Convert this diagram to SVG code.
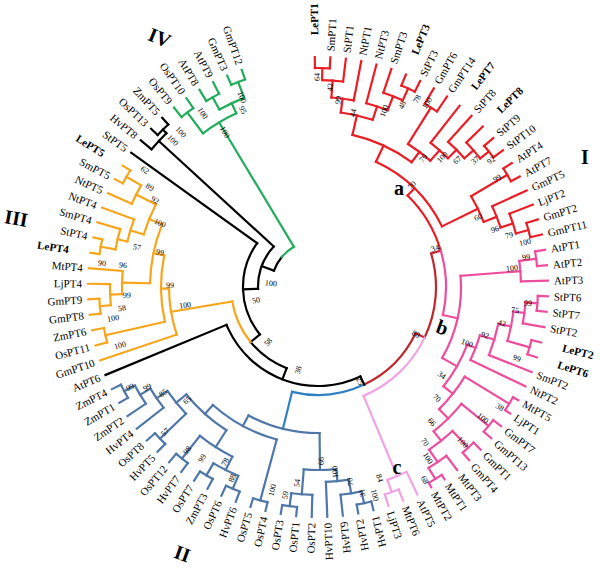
<svg xmlns="http://www.w3.org/2000/svg" width="600" height="568" viewBox="0 0 600 568">
<style>
text{font-family:"Liberation Serif","Times New Roman",serif;fill:#000}
.t{font-size:11px}
.L{font-weight:bold}
.n{text-anchor:end}
.s{font-size:8px;text-anchor:middle}
.c{font-size:20px;font-weight:bold;text-anchor:middle}
#tree line,#tree circle{fill:none;stroke-width:2.2;stroke-linecap:square}
.k{stroke:#000}.r{stroke:#ec1c24}.d{stroke:#c0272d}.p{stroke:#ee4d9e}.q{stroke:#f0a3e4}.u{stroke:#2f80c3}.w{stroke:#4f77a8}.o{stroke:#f8a51c}.g{stroke:#21ad5b}
</style>
<rect width="600" height="568" fill="#fff"/>
<g transform="translate(318,287)">
<g id="tree">
<g class="r">
<circle r="219" pathLength="360" stroke-dasharray="3.88 720" transform="rotate(-90.8)"/>
<circle r="207" pathLength="360" stroke-dasharray="5.82 720" transform="rotate(-88.86)"/>
<circle r="190" pathLength="360" stroke-dasharray="6.79 720" transform="rotate(-85.95)"/>
<circle r="218" pathLength="360" stroke-dasharray="3.88 720" transform="rotate(-67.52)"/>
<circle r="205" pathLength="360" stroke-dasharray="5.82 720" transform="rotate(-71.4)"/>
<circle r="190" pathLength="360" stroke-dasharray="6.79 720" transform="rotate(-75.28)"/>
<circle r="176" pathLength="360" stroke-dasharray="10.67 720" transform="rotate(-82.56)"/>
<circle r="212" pathLength="360" stroke-dasharray="3.88 720" transform="rotate(-59.76)"/>
<circle r="218" pathLength="360" stroke-dasharray="3.88 720" transform="rotate(-40.36)"/>
<circle r="207" pathLength="360" stroke-dasharray="5.82 720" transform="rotate(-44.24)"/>
<circle r="195" pathLength="360" stroke-dasharray="6.79 720" transform="rotate(-48.12)"/>
<circle r="183" pathLength="360" stroke-dasharray="7.27 720" transform="rotate(-52)"/>
<circle r="169" pathLength="360" stroke-dasharray="9.45 720" transform="rotate(-57.82)"/>
<circle r="156" pathLength="360" stroke-dasharray="24.13 720" transform="rotate(-77.23)"/>
<circle r="220" pathLength="360" stroke-dasharray="3.88 720" transform="rotate(-32.6)"/>
<circle r="218" pathLength="360" stroke-dasharray="3.88 720" transform="rotate(-17.08)"/>
<circle r="205" pathLength="360" stroke-dasharray="5.82 720" transform="rotate(-20.96)"/>
<circle r="192" pathLength="360" stroke-dasharray="6.79 720" transform="rotate(-24.84)"/>
<circle r="178" pathLength="360" stroke-dasharray="9.21 720" transform="rotate(-30.66)"/>
<circle r="138" pathLength="360" stroke-dasharray="39.1 720" transform="rotate(-65.16)"/>
<circle r="128" pathLength="360" stroke-dasharray="29.12 720" transform="rotate(-45.61)"/>
<line x1="219" x2="230" transform="rotate(-90.8)"/>
<line x1="219" x2="230" transform="rotate(-86.92)"/>
<line x1="207" x2="219" transform="rotate(-88.86)"/>
<line x1="207" x2="230" transform="rotate(-83.04)"/>
<line x1="190" x2="207" transform="rotate(-85.95)"/>
<line x1="190" x2="230" transform="rotate(-79.16)"/>
<line x1="218" x2="230" transform="rotate(-67.52)"/>
<line x1="218" x2="230" transform="rotate(-63.64)"/>
<line x1="205" x2="230" transform="rotate(-71.4)"/>
<line x1="205" x2="218" transform="rotate(-65.58)"/>
<line x1="190" x2="230" transform="rotate(-75.28)"/>
<line x1="190" x2="205" transform="rotate(-68.49)"/>
<line x1="176" x2="190" transform="rotate(-82.56)"/>
<line x1="176" x2="190" transform="rotate(-71.89)"/>
<line x1="156" x2="176" transform="rotate(-77.23)"/>
<line x1="212" x2="230" transform="rotate(-59.76)"/>
<line x1="212" x2="230" transform="rotate(-55.88)"/>
<line x1="218" x2="230" transform="rotate(-40.36)"/>
<line x1="218" x2="230" transform="rotate(-36.48)"/>
<line x1="207" x2="230" transform="rotate(-44.24)"/>
<line x1="207" x2="218" transform="rotate(-38.42)"/>
<line x1="195" x2="230" transform="rotate(-48.12)"/>
<line x1="195" x2="207" transform="rotate(-41.33)"/>
<line x1="183" x2="230" transform="rotate(-52)"/>
<line x1="183" x2="195" transform="rotate(-44.73)"/>
<line x1="169" x2="212" transform="rotate(-57.82)"/>
<line x1="169" x2="183" transform="rotate(-48.37)"/>
<line x1="156" x2="169" transform="rotate(-53.1)"/>
<line x1="138" x2="156" transform="rotate(-65.16)"/>
<line x1="220" x2="230" transform="rotate(-32.6)"/>
<line x1="220" x2="230" transform="rotate(-28.72)"/>
<line x1="218" x2="230" transform="rotate(-17.08)"/>
<line x1="218" x2="230" transform="rotate(-13.2)"/>
<line x1="205" x2="230" transform="rotate(-20.96)"/>
<line x1="205" x2="218" transform="rotate(-15.14)"/>
<line x1="192" x2="230" transform="rotate(-24.84)"/>
<line x1="192" x2="205" transform="rotate(-18.05)"/>
<line x1="178" x2="220" transform="rotate(-30.66)"/>
<line x1="178" x2="192" transform="rotate(-21.45)"/>
<line x1="138" x2="178" transform="rotate(-26.06)"/>
<line x1="128" x2="138" transform="rotate(-45.61)"/>
</g>
<g class="d">
<circle r="118" pathLength="360" stroke-dasharray="41.9 720" transform="rotate(-16.49)"/>
<circle r="108" pathLength="360" stroke-dasharray="39.25 720" transform="rotate(25.41)"/>
<line x1="118" x2="128" transform="rotate(-16.49)"/>
<line x1="108" x2="118" transform="rotate(25.41)"/>
</g>
<g class="p">
<circle r="128" pathLength="360" stroke-dasharray="29.12 720" transform="rotate(-16.49)"/>
<circle r="143" pathLength="360" stroke-dasharray="34.2 720" transform="rotate(-4.47)"/>
<circle r="203" pathLength="360" stroke-dasharray="5.82 720" transform="rotate(-7.38)"/>
<circle r="220" pathLength="360" stroke-dasharray="3.88 720" transform="rotate(-9.32)"/>
<circle r="160" pathLength="360" stroke-dasharray="17.22 720" transform="rotate(21.12)"/>
<circle r="169" pathLength="360" stroke-dasharray="8.97 720" transform="rotate(16.63)"/>
<circle r="184" pathLength="360" stroke-dasharray="10.18 720" transform="rotate(11.54)"/>
<circle r="197" pathLength="360" stroke-dasharray="8.73 720" transform="rotate(7.17)"/>
<circle r="208" pathLength="360" stroke-dasharray="5.82 720" transform="rotate(4.26)"/>
<circle r="220" pathLength="360" stroke-dasharray="3.88 720" transform="rotate(2.32)"/>
<circle r="220" pathLength="360" stroke-dasharray="3.88 720" transform="rotate(13.96)"/>
<circle r="172" pathLength="360" stroke-dasharray="13.83 720" transform="rotate(31.42)"/>
<circle r="224" pathLength="360" stroke-dasharray="3.88 720" transform="rotate(29.48)"/>
<circle r="185" pathLength="360" stroke-dasharray="12.13 720" transform="rotate(39.18)"/>
<circle r="220" pathLength="360" stroke-dasharray="3.88 720" transform="rotate(37.24)"/>
<circle r="197" pathLength="360" stroke-dasharray="8.73 720" transform="rotate(46.94)"/>
<circle r="220" pathLength="360" stroke-dasharray="3.88 720" transform="rotate(45)"/>
<circle r="212" pathLength="360" stroke-dasharray="5.82 720" transform="rotate(52.76)"/>
<circle r="225" pathLength="360" stroke-dasharray="3.88 720" transform="rotate(56.64)"/>
<line x1="128" x2="143" transform="rotate(12.63)"/>
<line x1="143" x2="203" transform="rotate(-4.47)"/>
<line x1="203" x2="230" transform="rotate(-1.56)"/>
<line x1="203" x2="220" transform="rotate(-7.38)"/>
<line x1="220" x2="230" transform="rotate(-9.32)"/>
<line x1="220" x2="230" transform="rotate(-5.44)"/>
<line x1="143" x2="160" transform="rotate(29.73)"/>
<line x1="160" x2="169" transform="rotate(21.12)"/>
<line x1="169" x2="230" transform="rotate(25.6)"/>
<line x1="169" x2="184" transform="rotate(16.63)"/>
<line x1="184" x2="230" transform="rotate(21.72)"/>
<line x1="184" x2="197" transform="rotate(11.54)"/>
<line x1="197" x2="208" transform="rotate(7.17)"/>
<line x1="208" x2="230" transform="rotate(10.08)"/>
<line x1="208" x2="220" transform="rotate(4.26)"/>
<line x1="220" x2="230" transform="rotate(2.32)"/>
<line x1="220" x2="230" transform="rotate(6.2)"/>
<line x1="197" x2="220" transform="rotate(15.9)"/>
<line x1="220" x2="230" transform="rotate(13.96)"/>
<line x1="220" x2="230" transform="rotate(17.84)"/>
<line x1="160" x2="172" transform="rotate(38.34)"/>
<line x1="172" x2="224" transform="rotate(31.42)"/>
<line x1="224" x2="230" transform="rotate(29.48)"/>
<line x1="224" x2="230" transform="rotate(33.36)"/>
<line x1="172" x2="185" transform="rotate(45.25)"/>
<line x1="185" x2="220" transform="rotate(39.18)"/>
<line x1="220" x2="230" transform="rotate(37.24)"/>
<line x1="220" x2="230" transform="rotate(41.12)"/>
<line x1="185" x2="197" transform="rotate(51.31)"/>
<line x1="197" x2="220" transform="rotate(46.94)"/>
<line x1="220" x2="230" transform="rotate(45)"/>
<line x1="220" x2="230" transform="rotate(48.88)"/>
<line x1="197" x2="212" transform="rotate(55.67)"/>
<line x1="212" x2="230" transform="rotate(52.76)"/>
<line x1="212" x2="225" transform="rotate(58.58)"/>
<line x1="225" x2="230" transform="rotate(56.64)"/>
<line x1="225" x2="230" transform="rotate(60.52)"/>
</g>
<g class="q">
<circle r="118" pathLength="360" stroke-dasharray="41.9 720" transform="rotate(25.41)"/>
<circle r="205" pathLength="360" stroke-dasharray="5.82 720" transform="rotate(64.4)"/>
<circle r="218" pathLength="360" stroke-dasharray="3.88 720" transform="rotate(68.28)"/>
<line x1="118" x2="205" transform="rotate(67.31)"/>
<line x1="205" x2="230" transform="rotate(64.4)"/>
<line x1="205" x2="218" transform="rotate(70.22)"/>
<line x1="218" x2="230" transform="rotate(68.28)"/>
<line x1="218" x2="230" transform="rotate(72.16)"/>
</g>
<g class="u">
<circle r="108" pathLength="360" stroke-dasharray="39.24 720" transform="rotate(64.66)"/>
<line x1="108" x2="146" transform="rotate(103.9)"/>
</g>
<g class="w">
<circle r="146" pathLength="360" stroke-dasharray="29.04 720" transform="rotate(89.38)"/>
<circle r="183" pathLength="360" stroke-dasharray="10.18 720" transform="rotate(84.29)"/>
<circle r="195" pathLength="360" stroke-dasharray="6.79 720" transform="rotate(80.89)"/>
<circle r="209" pathLength="360" stroke-dasharray="5.82 720" transform="rotate(77.98)"/>
<circle r="221" pathLength="360" stroke-dasharray="3.88 720" transform="rotate(76.04)"/>
<circle r="208" pathLength="360" stroke-dasharray="5.82 720" transform="rotate(91.56)"/>
<circle r="221" pathLength="360" stroke-dasharray="3.88 720" transform="rotate(95.44)"/>
<circle r="158" pathLength="360" stroke-dasharray="26.56 720" transform="rotate(105.14)"/>
<circle r="221" pathLength="360" stroke-dasharray="3.88 720" transform="rotate(103.2)"/>
<circle r="170" pathLength="360" stroke-dasharray="18.19 720" transform="rotate(122.6)"/>
<circle r="190" pathLength="360" stroke-dasharray="11.64 720" transform="rotate(116.78)"/>
<circle r="205" pathLength="360" stroke-dasharray="7.76 720" transform="rotate(112.9)"/>
<circle r="219" pathLength="360" stroke-dasharray="3.88 720" transform="rotate(110.96)"/>
<circle r="219" pathLength="360" stroke-dasharray="3.88 720" transform="rotate(118.72)"/>
<circle r="219" pathLength="360" stroke-dasharray="3.88 720" transform="rotate(126.48)"/>
<circle r="183" pathLength="360" stroke-dasharray="9.22 720" transform="rotate(136.18)"/>
<circle r="219" pathLength="360" stroke-dasharray="3.88 720" transform="rotate(134.24)"/>
<circle r="196" pathLength="360" stroke-dasharray="6.79 720" transform="rotate(142)"/>
<circle r="208" pathLength="360" stroke-dasharray="5.82 720" transform="rotate(145.88)"/>
<circle r="220" pathLength="360" stroke-dasharray="3.88 720" transform="rotate(149.76)"/>
<line x1="146" x2="183" transform="rotate(89.38)"/>
<line x1="183" x2="195" transform="rotate(84.29)"/>
<line x1="195" x2="230" transform="rotate(87.68)"/>
<line x1="195" x2="209" transform="rotate(80.89)"/>
<line x1="209" x2="230" transform="rotate(83.8)"/>
<line x1="209" x2="221" transform="rotate(77.98)"/>
<line x1="221" x2="230" transform="rotate(76.04)"/>
<line x1="221" x2="230" transform="rotate(79.92)"/>
<line x1="183" x2="208" transform="rotate(94.47)"/>
<line x1="208" x2="230" transform="rotate(91.56)"/>
<line x1="208" x2="221" transform="rotate(97.38)"/>
<line x1="221" x2="230" transform="rotate(95.44)"/>
<line x1="221" x2="230" transform="rotate(99.32)"/>
<line x1="146" x2="158" transform="rotate(118.42)"/>
<line x1="158" x2="221" transform="rotate(105.14)"/>
<line x1="221" x2="230" transform="rotate(103.2)"/>
<line x1="221" x2="230" transform="rotate(107.08)"/>
<line x1="158" x2="170" transform="rotate(131.7)"/>
<line x1="170" x2="190" transform="rotate(122.6)"/>
<line x1="190" x2="205" transform="rotate(116.78)"/>
<line x1="205" x2="219" transform="rotate(112.9)"/>
<line x1="219" x2="230" transform="rotate(110.96)"/>
<line x1="219" x2="230" transform="rotate(114.84)"/>
<line x1="205" x2="219" transform="rotate(120.66)"/>
<line x1="219" x2="230" transform="rotate(118.72)"/>
<line x1="219" x2="230" transform="rotate(122.6)"/>
<line x1="190" x2="219" transform="rotate(128.42)"/>
<line x1="219" x2="230" transform="rotate(126.48)"/>
<line x1="219" x2="230" transform="rotate(130.36)"/>
<line x1="170" x2="183" transform="rotate(140.79)"/>
<line x1="183" x2="219" transform="rotate(136.18)"/>
<line x1="219" x2="230" transform="rotate(134.24)"/>
<line x1="219" x2="230" transform="rotate(138.12)"/>
<line x1="183" x2="196" transform="rotate(145.4)"/>
<line x1="196" x2="230" transform="rotate(142)"/>
<line x1="196" x2="208" transform="rotate(148.79)"/>
<line x1="208" x2="230" transform="rotate(145.88)"/>
<line x1="208" x2="220" transform="rotate(151.7)"/>
<line x1="220" x2="230" transform="rotate(149.76)"/>
<line x1="220" x2="230" transform="rotate(153.64)"/>
</g>
<g class="k">
<circle r="99" pathLength="360" stroke-dasharray="92.86 720" transform="rotate(64.66)"/>
<circle r="87" pathLength="360" stroke-dasharray="29.66 720" transform="rotate(111.09)"/>
<circle r="75" pathLength="360" stroke-dasharray="74.97 720" transform="rotate(140.75)"/>
<circle r="60" pathLength="360" stroke-dasharray="44.27 720" transform="rotate(178.24)"/>
<circle r="216" pathLength="360" stroke-dasharray="5.82 720" transform="rotate(219.6)"/>
<circle r="221" pathLength="360" stroke-dasharray="3.88 720" transform="rotate(223.48)"/>
<circle r="47" pathLength="360" stroke-dasharray="19.31 720" transform="rotate(200.38)"/>
<line x1="99" x2="108" transform="rotate(64.66)"/>
<line x1="99" x2="230" transform="rotate(157.52)"/>
<line x1="87" x2="99" transform="rotate(111.09)"/>
<line x1="75" x2="87" transform="rotate(140.75)"/>
<line x1="75" x2="230" transform="rotate(215.72)"/>
<line x1="60" x2="75" transform="rotate(178.24)"/>
<line x1="60" x2="216" transform="rotate(222.51)"/>
<line x1="216" x2="230" transform="rotate(219.6)"/>
<line x1="216" x2="221" transform="rotate(225.42)"/>
<line x1="221" x2="230" transform="rotate(223.48)"/>
<line x1="221" x2="230" transform="rotate(227.36)"/>
<line x1="47" x2="60" transform="rotate(200.38)"/>
</g>
<g class="o">
<circle r="87" pathLength="360" stroke-dasharray="29.66 720" transform="rotate(140.75)"/>
<circle r="149" pathLength="360" stroke-dasharray="18.01 720" transform="rotate(161.4)"/>
<circle r="157" pathLength="360" stroke-dasharray="24.38 720" transform="rotate(167.22)"/>
<circle r="218" pathLength="360" stroke-dasharray="3.88 720" transform="rotate(165.28)"/>
<circle r="168" pathLength="360" stroke-dasharray="20.61 720" transform="rotate(181.29)"/>
<circle r="196" pathLength="360" stroke-dasharray="6.79 720" transform="rotate(177.89)"/>
<circle r="208" pathLength="360" stroke-dasharray="5.82 720" transform="rotate(174.98)"/>
<circle r="219" pathLength="360" stroke-dasharray="3.88 720" transform="rotate(173.04)"/>
<circle r="182" pathLength="360" stroke-dasharray="10.18 720" transform="rotate(196.81)"/>
<circle r="196" pathLength="360" stroke-dasharray="6.79 720" transform="rotate(193.41)"/>
<circle r="206" pathLength="360" stroke-dasharray="5.82 720" transform="rotate(190.5)"/>
<circle r="221" pathLength="360" stroke-dasharray="3.88 720" transform="rotate(188.56)"/>
<circle r="204" pathLength="360" stroke-dasharray="5.82 720" transform="rotate(204.08)"/>
<circle r="221" pathLength="360" stroke-dasharray="3.88 720" transform="rotate(207.96)"/>
<line x1="87" x2="149" transform="rotate(170.41)"/>
<line x1="149" x2="230" transform="rotate(161.4)"/>
<line x1="149" x2="157" transform="rotate(179.41)"/>
<line x1="157" x2="218" transform="rotate(167.22)"/>
<line x1="218" x2="230" transform="rotate(165.28)"/>
<line x1="218" x2="230" transform="rotate(169.16)"/>
<line x1="157" x2="168" transform="rotate(191.6)"/>
<line x1="168" x2="196" transform="rotate(181.29)"/>
<line x1="196" x2="230" transform="rotate(184.68)"/>
<line x1="196" x2="208" transform="rotate(177.89)"/>
<line x1="208" x2="230" transform="rotate(180.8)"/>
<line x1="208" x2="219" transform="rotate(174.98)"/>
<line x1="219" x2="230" transform="rotate(173.04)"/>
<line x1="219" x2="230" transform="rotate(176.92)"/>
<line x1="168" x2="182" transform="rotate(201.9)"/>
<line x1="182" x2="196" transform="rotate(196.81)"/>
<line x1="196" x2="230" transform="rotate(200.2)"/>
<line x1="196" x2="206" transform="rotate(193.41)"/>
<line x1="206" x2="230" transform="rotate(196.32)"/>
<line x1="206" x2="221" transform="rotate(190.5)"/>
<line x1="221" x2="230" transform="rotate(188.56)"/>
<line x1="221" x2="230" transform="rotate(192.44)"/>
<line x1="182" x2="204" transform="rotate(206.99)"/>
<line x1="204" x2="230" transform="rotate(204.08)"/>
<line x1="204" x2="221" transform="rotate(209.9)"/>
<line x1="221" x2="230" transform="rotate(207.96)"/>
<line x1="221" x2="230" transform="rotate(211.84)"/>
</g>
<g class="g">
<circle r="47" pathLength="360" stroke-dasharray="19.31 720" transform="rotate(219.69)"/>
<circle r="192" pathLength="360" stroke-dasharray="11.64 720" transform="rotate(233.18)"/>
<circle r="218" pathLength="360" stroke-dasharray="3.88 720" transform="rotate(231.24)"/>
<circle r="203" pathLength="360" stroke-dasharray="7.76 720" transform="rotate(240.94)"/>
<circle r="217" pathLength="360" stroke-dasharray="3.88 720" transform="rotate(239)"/>
<circle r="220" pathLength="360" stroke-dasharray="3.88 720" transform="rotate(246.76)"/>
<line x1="47" x2="192" transform="rotate(239)"/>
<line x1="192" x2="218" transform="rotate(233.18)"/>
<line x1="218" x2="230" transform="rotate(231.24)"/>
<line x1="218" x2="230" transform="rotate(235.12)"/>
<line x1="192" x2="203" transform="rotate(244.82)"/>
<line x1="203" x2="217" transform="rotate(240.94)"/>
<line x1="217" x2="230" transform="rotate(239)"/>
<line x1="217" x2="230" transform="rotate(242.88)"/>
<line x1="203" x2="220" transform="rotate(248.7)"/>
<line x1="220" x2="230" transform="rotate(246.76)"/>
<line x1="220" x2="230" transform="rotate(250.64)"/>
</g>
</g>
<g id="leaves">
<g id="n-LePT1"><text class="t L" transform="rotate(-90.8) translate(252 0)" dy=".35em">LePT1</text></g>
<g id="n-SmPT1"><text class="t" transform="rotate(-86.92) translate(236 0)" dy=".35em">SmPT1</text></g>
<g id="n-StPT1"><text class="t" transform="rotate(-83.04) translate(236 0)" dy=".35em">StPT1</text></g>
<g id="n-NtPT1"><text class="t" transform="rotate(-79.16) translate(236 0)" dy=".35em">NtPT1</text></g>
<g id="n-NtPT3"><text class="t" transform="rotate(-75.28) translate(236 0)" dy=".35em">NtPT3</text></g>
<g id="n-SmPT3"><text class="t" transform="rotate(-71.4) translate(236 0)" dy=".35em">SmPT3</text></g>
<g id="n-LePT3"><text class="t L" transform="rotate(-67.52) translate(252 0)" dy=".35em">LePT3</text></g>
<g id="n-StPT3"><text class="t" transform="rotate(-63.64) translate(236 0)" dy=".35em">StPT3</text></g>
<g id="n-GmPT6"><text class="t" transform="rotate(-59.76) translate(236 0)" dy=".35em">GmPT6</text></g>
<g id="n-GmPT14"><text class="t" transform="rotate(-55.88) translate(236 0)" dy=".35em">GmPT14</text></g>
<g id="n-LePT7"><text class="t L" transform="rotate(-52) translate(252 0)" dy=".35em">LePT7</text></g>
<g id="n-StPT8"><text class="t" transform="rotate(-48.12) translate(236 0)" dy=".35em">StPT8</text></g>
<g id="n-LePT8"><text class="t L" transform="rotate(-44.24) translate(252 0)" dy=".35em">LePT8</text></g>
<g id="n-StPT9"><text class="t" transform="rotate(-40.36) translate(236 0)" dy=".35em">StPT9</text></g>
<g id="n-StPT10"><text class="t" transform="rotate(-36.48) translate(236 0)" dy=".35em">StPT10</text></g>
<g id="n-AtPT4"><text class="t" transform="rotate(-32.6) translate(236 0)" dy=".35em">AtPT4</text></g>
<g id="n-AtPT7"><text class="t" transform="rotate(-28.72) translate(236 0)" dy=".35em">AtPT7</text></g>
<g id="n-GmPT5"><text class="t" transform="rotate(-24.84) translate(236 0)" dy=".35em">GmPT5</text></g>
<g id="n-LjPT2"><text class="t" transform="rotate(-20.96) translate(236 0)" dy=".35em">LjPT2</text></g>
<g id="n-GmPT2"><text class="t" transform="rotate(-17.08) translate(236 0)" dy=".35em">GmPT2</text></g>
<g id="n-GmPT11"><text class="t" transform="rotate(-13.2) translate(236 0)" dy=".35em">GmPT11</text></g>
<g id="n-AtPT1"><text class="t" transform="rotate(-9.32) translate(236 0)" dy=".35em">AtPT1</text></g>
<g id="n-AtPT2"><text class="t" transform="rotate(-5.44) translate(236 0)" dy=".35em">AtPT2</text></g>
<g id="n-AtPT3"><text class="t" transform="rotate(-1.56) translate(236 0)" dy=".35em">AtPT3</text></g>
<g id="n-StPT6"><text class="t" transform="rotate(2.32) translate(236 0)" dy=".35em">StPT6</text></g>
<g id="n-StPT7"><text class="t" transform="rotate(6.2) translate(236 0)" dy=".35em">StPT7</text></g>
<g id="n-StPT2"><text class="t" transform="rotate(10.08) translate(236 0)" dy=".35em">StPT2</text></g>
<g id="n-LePT2"><text class="t L" transform="rotate(13.96) translate(252 0)" dy=".35em">LePT2</text></g>
<g id="n-LePT6"><text class="t L" transform="rotate(17.84) translate(252 0)" dy=".35em">LePT6</text></g>
<g id="n-SmPT2"><text class="t" transform="rotate(21.72) translate(236 0)" dy=".35em">SmPT2</text></g>
<g id="n-NtPT2"><text class="t" transform="rotate(25.6) translate(236 0)" dy=".35em">NtPT2</text></g>
<g id="n-MtPT5"><text class="t" transform="rotate(29.48) translate(236 0)" dy=".35em">MtPT5</text></g>
<g id="n-LjPT1"><text class="t" transform="rotate(33.36) translate(236 0)" dy=".35em">LjPT1</text></g>
<g id="n-GmPT7"><text class="t" transform="rotate(37.24) translate(236 0)" dy=".35em">GmPT7</text></g>
<g id="n-GmPT13"><text class="t" transform="rotate(41.12) translate(236 0)" dy=".35em">GmPT13</text></g>
<g id="n-GmPT1"><text class="t" transform="rotate(45) translate(236 0)" dy=".35em">GmPT1</text></g>
<g id="n-GmPT4"><text class="t" transform="rotate(48.88) translate(236 0)" dy=".35em">GmPT4</text></g>
<g id="n-MtPT3"><text class="t" transform="rotate(52.76) translate(236 0)" dy=".35em">MtPT3</text></g>
<g id="n-MtPT1"><text class="t" transform="rotate(56.64) translate(236 0)" dy=".35em">MtPT1</text></g>
<g id="n-MtPT2"><text class="t" transform="rotate(60.52) translate(236 0)" dy=".35em">MtPT2</text></g>
<g id="n-AtPT5"><text class="t" transform="rotate(64.4) translate(236 0)" dy=".35em">AtPT5</text></g>
<g id="n-MtPT6"><text class="t" transform="rotate(68.28) translate(236 0)" dy=".35em">MtPT6</text></g>
<g id="n-LjPT3"><text class="t" transform="rotate(72.16) translate(236 0)" dy=".35em">LjPT3</text></g>
<g id="n-HvPT1"><text class="t n" transform="rotate(-103.96) translate(-236 0)" dy=".35em">HvPT1</text></g>
<g id="n-HvPT2"><text class="t n" transform="rotate(-100.08) translate(-236 0)" dy=".35em">HvPT2</text></g>
<g id="n-HvPT9"><text class="t n" transform="rotate(-96.2) translate(-236 0)" dy=".35em">HvPT9</text></g>
<g id="n-HvPT10"><text class="t n" transform="rotate(-92.32) translate(-236 0)" dy=".35em">HvPT10</text></g>
<g id="n-OsPT2"><text class="t n" transform="rotate(-88.44) translate(-236 0)" dy=".35em">OsPT2</text></g>
<g id="n-OsPT1"><text class="t n" transform="rotate(-84.56) translate(-236 0)" dy=".35em">OsPT1</text></g>
<g id="n-OsPT3"><text class="t n" transform="rotate(-80.68) translate(-236 0)" dy=".35em">OsPT3</text></g>
<g id="n-OsPT4"><text class="t n" transform="rotate(-76.8) translate(-236 0)" dy=".35em">OsPT4</text></g>
<g id="n-OsPT5"><text class="t n" transform="rotate(-72.92) translate(-236 0)" dy=".35em">OsPT5</text></g>
<g id="n-HvPT6"><text class="t n" transform="rotate(-69.04) translate(-236 0)" dy=".35em">HvPT6</text></g>
<g id="n-OsPT6"><text class="t n" transform="rotate(-65.16) translate(-236 0)" dy=".35em">OsPT6</text></g>
<g id="n-ZmPT3"><text class="t n" transform="rotate(-61.28) translate(-236 0)" dy=".35em">ZmPT3</text></g>
<g id="n-OsPT7"><text class="t n" transform="rotate(-57.4) translate(-236 0)" dy=".35em">OsPT7</text></g>
<g id="n-HvPT7"><text class="t n" transform="rotate(-53.52) translate(-236 0)" dy=".35em">HvPT7</text></g>
<g id="n-OsPT12"><text class="t n" transform="rotate(-49.64) translate(-236 0)" dy=".35em">OsPT12</text></g>
<g id="n-HvPT5"><text class="t n" transform="rotate(-45.76) translate(-236 0)" dy=".35em">HvPT5</text></g>
<g id="n-OsPT8"><text class="t n" transform="rotate(-41.88) translate(-236 0)" dy=".35em">OsPT8</text></g>
<g id="n-HvPT4"><text class="t n" transform="rotate(-38) translate(-236 0)" dy=".35em">HvPT4</text></g>
<g id="n-ZmPT2"><text class="t n" transform="rotate(-34.12) translate(-236 0)" dy=".35em">ZmPT2</text></g>
<g id="n-ZmPT1"><text class="t n" transform="rotate(-30.24) translate(-236 0)" dy=".35em">ZmPT1</text></g>
<g id="n-ZmPT4"><text class="t n" transform="rotate(-26.36) translate(-236 0)" dy=".35em">ZmPT4</text></g>
<g id="n-AtPT6"><text class="t n" transform="rotate(-22.48) translate(-236 0)" dy=".35em">AtPT6</text></g>
<g id="n-GmPT10"><text class="t n" transform="rotate(-18.6) translate(-236 0)" dy=".35em">GmPT10</text></g>
<g id="n-OsPT11"><text class="t n" transform="rotate(-14.72) translate(-236 0)" dy=".35em">OsPT11</text></g>
<g id="n-ZmPT6"><text class="t n" transform="rotate(-10.84) translate(-236 0)" dy=".35em">ZmPT6</text></g>
<g id="n-GmPT8"><text class="t n" transform="rotate(-6.96) translate(-236 0)" dy=".35em">GmPT8</text></g>
<g id="n-GmPT9"><text class="t n" transform="rotate(-3.08) translate(-236 0)" dy=".35em">GmPT9</text></g>
<g id="n-LjPT4"><text class="t n" transform="rotate(0.8) translate(-236 0)" dy=".35em">LjPT4</text></g>
<g id="n-MtPT4"><text class="t n" transform="rotate(4.68) translate(-236 0)" dy=".35em">MtPT4</text></g>
<g id="n-LePT4"><text class="t n L" transform="rotate(8.56) translate(-252 0)" dy=".35em">LePT4</text></g>
<g id="n-StPT4"><text class="t n" transform="rotate(12.44) translate(-236 0)" dy=".35em">StPT4</text></g>
<g id="n-SmPT4"><text class="t n" transform="rotate(16.32) translate(-236 0)" dy=".35em">SmPT4</text></g>
<g id="n-NtPT4"><text class="t n" transform="rotate(20.2) translate(-236 0)" dy=".35em">NtPT4</text></g>
<g id="n-NtPT5"><text class="t n" transform="rotate(24.08) translate(-236 0)" dy=".35em">NtPT5</text></g>
<g id="n-SmPT5"><text class="t n" transform="rotate(27.96) translate(-236 0)" dy=".35em">SmPT5</text></g>
<g id="n-LePT5"><text class="t n L" transform="rotate(31.84) translate(-252 0)" dy=".35em">LePT5</text></g>
<g id="n-StPT5"><text class="t n" transform="rotate(35.72) translate(-236 0)" dy=".35em">StPT5</text></g>
<g id="n-HvPT8"><text class="t n" transform="rotate(39.6) translate(-236 0)" dy=".35em">HvPT8</text></g>
<g id="n-OsPT13"><text class="t n" transform="rotate(43.48) translate(-236 0)" dy=".35em">OsPT13</text></g>
<g id="n-ZmPT5"><text class="t n" transform="rotate(47.36) translate(-236 0)" dy=".35em">ZmPT5</text></g>
<g id="n-OsPT9"><text class="t n" transform="rotate(51.24) translate(-236 0)" dy=".35em">OsPT9</text></g>
<g id="n-OsPT10"><text class="t n" transform="rotate(55.12) translate(-236 0)" dy=".35em">OsPT10</text></g>
<g id="n-AtPT8"><text class="t n" transform="rotate(59) translate(-236 0)" dy=".35em">AtPT8</text></g>
<g id="n-AtPT9"><text class="t n" transform="rotate(62.88) translate(-236 0)" dy=".35em">AtPT9</text></g>
<g id="n-GmPT3"><text class="t n" transform="rotate(66.76) translate(-236 0)" dy=".35em">GmPT3</text></g>
<g id="n-GmPT12"><text class="t n" transform="rotate(70.64) translate(-236 0)" dy=".35em">GmPT12</text></g>
</g>
</g>
<g id="bootstrap">
<text class="s" transform="translate(317 77) rotate(-90.3)" dy=".35em">64</text>
<text class="s" transform="translate(330 87) rotate(-86.6)" dy=".35em">42</text>
<text class="s" transform="translate(338 100) rotate(-83.9)" dy=".35em">99</text>
<text class="s" transform="translate(353 113) rotate(-78.6)" dy=".35em">44</text>
<text class="s" transform="translate(384 111) rotate(-69.4)" dy=".35em">100</text>
<text class="s" transform="translate(402 105) rotate(-65.2)" dy=".35em">48</text>
<text class="s" transform="translate(417 99) rotate(-62.2)" dy=".35em">78</text>
<text class="s" transform="translate(427 103) rotate(-59.4)" dy=".35em">100</text>
<text class="s" transform="translate(423 158) rotate(-50.9)" dy=".35em">79</text>
<text class="s" transform="translate(442 157) rotate(-46.4)" dy=".35em">100</text>
<text class="s" transform="translate(457 160) rotate(-42.4)" dy=".35em">67</text>
<text class="s" transform="translate(475 160) rotate(-39)" dy=".35em">37</text>
<text class="s" transform="translate(491 160) rotate(-36.3)" dy=".35em">92</text>
<text class="s" transform="translate(497 178) rotate(-31.3)" dy=".35em">99</text>
<text class="s" transform="translate(412 185) rotate(-47.3)" dy=".35em">70</text>
<text class="s" transform="translate(478 217) rotate(-23.6)" dy=".35em">60</text>
<text class="s" transform="translate(495 229) rotate(-18.1)" dy=".35em">96</text>
<text class="s" transform="translate(509 235) rotate(-15.2)" dy=".35em">79</text>
<text class="s" transform="translate(525 242) rotate(-12.3)" dy=".35em">100</text>
<text class="s" transform="translate(526 257) rotate(-8.2)" dy=".35em">99</text>
<text class="s" transform="translate(512 268) rotate(-5.6)" dy=".35em">100</text>
<text class="s" transform="translate(435 248) rotate(-18.4)" dy=".35em">34</text>
<text class="s" transform="translate(528 303) rotate(4.4)" dy=".35em">99</text>
<text class="s" transform="translate(515 310) rotate(6.7)" dy=".35em">75</text>
<text class="s" transform="translate(502 323) rotate(11.1)" dy=".35em">42</text>
<text class="s" transform="translate(485 335) rotate(16)" dy=".35em">92</text>
<text class="s" transform="translate(467 343) rotate(20.6)" dy=".35em">100</text>
<text class="s" transform="translate(517 358) rotate(19.6)" dy=".35em">99</text>
<text class="s" transform="translate(442 375) rotate(35.4)" dy=".35em">34</text>
<text class="s" transform="translate(437 398) rotate(43)" dy=".35em">70</text>
<text class="s" transform="translate(500 407) rotate(33.4)" dy=".35em">38</text>
<text class="s" transform="translate(432 422) rotate(49.8)" dy=".35em">66</text>
<text class="s" transform="translate(483 418) rotate(38.4)" dy=".35em">100</text>
<text class="s" transform="translate(425 442) rotate(55.4)" dy=".35em">70</text>
<text class="s" transform="translate(463 442) rotate(46.9)" dy=".35em">100</text>
<text class="s" transform="translate(428 458) rotate(57.2)" dy=".35em">100</text>
<text class="s" transform="translate(425 480) rotate(61)" dy=".35em">68</text>
<text class="s" transform="translate(380 478) rotate(72)" dy=".35em">84</text>
<text class="s" transform="translate(375 495) rotate(74.7)" dy=".35em">100</text>
<text class="s" transform="translate(362 493) rotate(-102.1)" dy=".35em">31</text>
<text class="s" transform="translate(350 482) rotate(-99.3)" dy=".35em">70</text>
<text class="s" transform="translate(335 472) rotate(-95.3)" dy=".35em">100</text>
<text class="s" transform="translate(321 461) rotate(-91)" dy=".35em">66</text>
<text class="s" transform="translate(297 483) rotate(-83.9)" dy=".35em">54</text>
<text class="s" transform="translate(285 495) rotate(-81)" dy=".35em">59</text>
<text class="s" transform="translate(272 490) rotate(-77.2)" dy=".35em">100</text>
<text class="s" transform="translate(232 478) rotate(-65.8)" dy=".35em">88</text>
<text class="s" transform="translate(225 462) rotate(-62)" dy=".35em">78</text>
<text class="s" transform="translate(202 458) rotate(-55.8)" dy=".35em">99</text>
<text class="s" transform="translate(187 450) rotate(-51.2)" dy=".35em">98</text>
<text class="s" transform="translate(165 432) rotate(-43.5)" dy=".35em">57</text>
<text class="s" transform="translate(187 400) rotate(-40.8)" dy=".35em">65</text>
<text class="s" transform="translate(163 393) rotate(-34.4)" dy=".35em">85</text>
<text class="s" transform="translate(147 387) rotate(-30.3)" dy=".35em">99</text>
<text class="s" transform="translate(130 387) rotate(-28)" dy=".35em">99</text>
<text class="s" transform="translate(185 305) rotate(-7.7)" dy=".35em">100</text>
<text class="s" transform="translate(120 345) rotate(-16.3)" dy=".35em">100</text>
<text class="s" transform="translate(170 285) rotate(0.8)" dy=".35em">99</text>
<text class="s" transform="translate(113 318) rotate(-8.6)" dy=".35em">100</text>
<text class="s" transform="translate(122 308) rotate(-6.1)" dy=".35em">58</text>
<text class="s" transform="translate(127 295) rotate(-2.4)" dy=".35em">99</text>
<text class="s" transform="translate(160 252) rotate(12.5)" dy=".35em">99</text>
<text class="s" transform="translate(102 263) rotate(6.3)" dy=".35em">90</text>
<text class="s" transform="translate(123 265) rotate(6.4)" dy=".35em">96</text>
<text class="s" transform="translate(137 247) rotate(12.5)" dy=".35em">57</text>
<text class="s" transform="translate(160 223) rotate(22)" dy=".35em">100</text>
<text class="s" transform="translate(155 200) rotate(28.1)" dy=".35em">92</text>
<text class="s" transform="translate(150 187) rotate(30.8)" dy=".35em">89</text>
<text class="s" transform="translate(145 170) rotate(34.1)" dy=".35em">62</text>
<text class="s" transform="translate(181 132) rotate(48.5)" dy=".35em">100</text>
<text class="s" transform="translate(173 140) rotate(45.4)" dy=".35em">100</text>
<text class="s" transform="translate(242 97) rotate(68.2)" dy=".35em">100</text>
<text class="s" transform="translate(243 110) rotate(67)" dy=".35em">95</text>
<text class="s" transform="translate(203 113) rotate(56.5)" dy=".35em">100</text>
<text class="s" transform="translate(225 132) rotate(59)" dy=".35em">100</text>
<text class="s" transform="translate(271 283) rotate(4.9)" dy=".35em">100</text>
<text class="s" transform="translate(256 300) rotate(-11.8)" dy=".35em">50</text>
<text class="s" transform="translate(268 342) rotate(-47.7)" dy=".35em">58</text>
<text class="s" transform="translate(298 370) rotate(-76.5)" dy=".35em">38</text>
<text class="s" transform="translate(360 381) rotate(65.9)" dy=".35em">25</text>
<text class="s" transform="translate(416 334) rotate(25.6)" dy=".35em">88</text>
</g>
<g id="clades">
<text class="c" x="585" y="164">I</text>
<text class="c" transform="translate(180 560) rotate(20)">II</text>
<text class="c" transform="translate(15 225) rotate(10)">III</text>
<text class="c" transform="translate(157 44) rotate(22)">IV</text>
<text class="c" x="399" y="195">a</text>
<text class="c" transform="translate(440 334) rotate(20)">b</text>
<text class="c" x="397" y="474">c</text>
</g>
</svg>
